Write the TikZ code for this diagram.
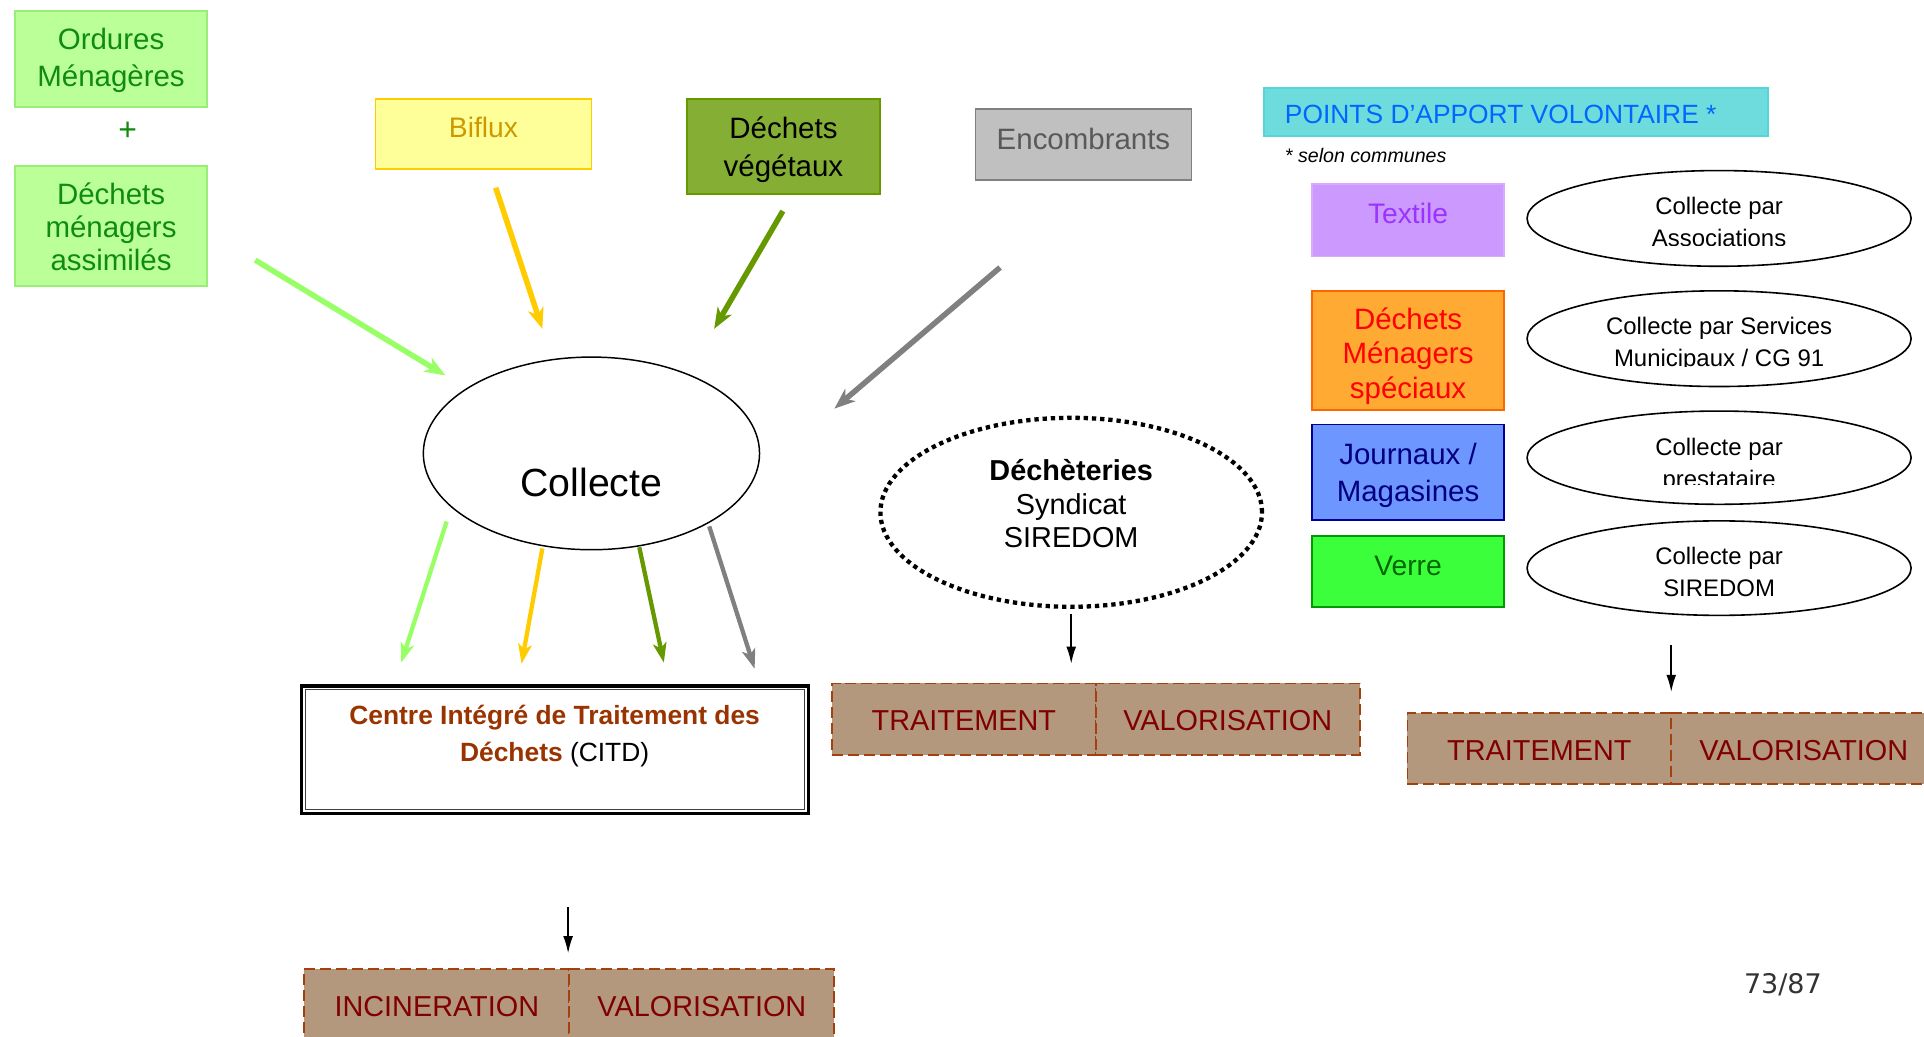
\documentclass[tikz,border=0pt]{standalone}
\usepackage{fontspec}
\setmainfont{Liberation Sans}
\newfontfamily\dejavu{DejaVu Sans}
\usetikzlibrary{shapes.geometric,arrows.meta}
\definecolor{omf}{HTML}{BBFF99}
\definecolor{omd}{HTML}{99EE77}
\definecolor{omt}{HTML}{0F8C0F}
\definecolor{bif}{HTML}{FFFF99}
\definecolor{bid}{HTML}{FFCC00}
\definecolor{bit}{HTML}{CC9900}
\definecolor{dvf}{HTML}{84AE34}
\definecolor{dvd}{HTML}{669900}
\definecolor{encf}{HTML}{C0C0C0}
\definecolor{encd}{HTML}{808080}
\definecolor{enct}{HTML}{595959}
\definecolor{papf}{HTML}{6EDCDC}
\definecolor{papd}{HTML}{55D5D5}
\definecolor{papt}{HTML}{0066FF}
\definecolor{texf}{HTML}{CC99FF}
\definecolor{texd}{HTML}{D6ABFF}
\definecolor{text}{HTML}{9933FF}
\definecolor{dmsf}{HTML}{FFAA33}
\definecolor{dmsd}{HTML}{FF6600}
\definecolor{dmst}{HTML}{FF0000}
\definecolor{jmf}{HTML}{6E96FF}
\definecolor{jmd}{HTML}{000099}
\definecolor{jmt}{HTML}{000080}
\definecolor{vef}{HTML}{3CFF3C}
\definecolor{ved}{HTML}{009900}
\definecolor{vet}{HTML}{006600}
\definecolor{arlg}{HTML}{99FF66}
\definecolor{aryl}{HTML}{FFCC00}
\definecolor{arol}{HTML}{669900}
\definecolor{argr}{HTML}{808080}
\definecolor{tanf}{HTML}{B3987E}
\definecolor{tand}{HTML}{A3400D}
\definecolor{tant}{HTML}{800000}
\definecolor{citdt}{HTML}{993300}
\newcommand\fsz[2]{\fontsize{#1pt}{#2pt}\selectfont}
\begin{document}
\begin{tikzpicture}[x=1pt,y=-1pt,
  box/.style={draw,rectangle,line width=1.5pt,inner sep=0pt},
  txt/.style={anchor=base,inner sep=0pt},
  pellipse/.style={draw,ellipse,line width=1.3pt,inner sep=0pt,minimum width=313pt},
  inarrow/.style={line width=4.5pt,-{Stealth[length=17pt,width=13pt,inset=5pt]}},
  outarrow/.style={line width=3.5pt,-{Stealth[length=16pt,width=11pt,inset=4pt]}},
  blkarrow/.style={line width=1.5pt,-{Latex[length=14pt,width=8pt]}},
  tanbox/.style={draw=tand,fill=tanf,rectangle,line width=1.5pt,dash pattern=on 9pt off 4pt,
    inner sep=0pt,text=tant,font=\fsz{23.5}{28},text height=19pt,text depth=0pt}
]
\fill[white] (0,0) rectangle (1568,845);
\useasboundingbox (0,0) rectangle (1568,845);

% left green boxes
\node[box,draw=omd,fill=omf,minimum width=157pt,minimum height=78pt] (om) at (90.5,48) {};
\node[txt,text=omt,font=\fsz{24}{28}] (omt1) at (90.5,40.6) {Ordures};
\node[txt,text=omt,font=\fsz{24}{28}] (omt2) at (90.5,70.6) {Ménagères};
\node[text=omt,font=\fsz{26}{28},inner sep=0pt] (plus) at (104,107) {+};
\node[box,draw=omd,fill=omf,minimum width=157pt,minimum height=98pt] (dma) at (90.5,184) {};
\node[txt,text=omt,font=\fsz{24}{28}] (dmat1) at (90.5,166.6) {Déchets};
\node[txt,text=omt,font=\fsz{24}{28}] (dmat2) at (90.5,193.6) {ménagers};
\node[txt,text=omt,font=\fsz{24}{28}] (dmat3) at (90.5,220.6) {assimilés};

% Biflux
\node[box,draw=bid,fill=bif,minimum width=176pt,minimum height=57pt] (bif) at (394,109.5) {};
\node[txt,text=bit,font=\fsz{23}{28}] (bift) at (394,112.3) {Biflux};
% Dechets vegetaux
\node[box,draw=dvd,fill=dvf,minimum width=157pt,minimum height=77pt] (dv) at (638.5,119.5) {};
\node[txt,font=\fsz{24}{28}] (dvt1) at (638.5,112.6) {Déchets};
\node[txt,font=\fsz{24}{28}] (dvt2) at (638.5,143.6) {végétaux};
% Encombrants
\node[box,draw=encd,fill=encf,minimum width=176pt,minimum height=58pt] (enc) at (883,118) {};
\node[txt,text=enct,font=\fsz{24}{28}] (enct) at (883,121.6) {Encombrants};

% Points d'apport volontaire
\node[box,draw=papd,fill=papf,minimum width=411pt,minimum height=39pt] (pap) at (1235.5,91.5) {};
\node[anchor=base west,inner sep=0pt,text=papt,font=\fsz{21.5}{26}] (papt) at (1047,100.7) {POINTS D’APPORT VOLONTAIRE *};
\node[anchor=base west,inner sep=0pt,font=\fsz{16}{20}\itshape] (selon) at (1047,132.8) {* selon communes};

% PAV boxes
\node[box,draw=texd,fill=texf,minimum width=157pt,minimum height=59pt] (tex) at (1147.5,179.5) {};
\node[txt,text=text,font=\fsz{23}{28}] (text1) at (1147.5,182.3) {Textile};
\node[box,draw=dmsd,fill=dmsf,minimum width=157pt,minimum height=97pt] (dms) at (1147.5,285.5) {};
\node[txt,text=dmst,font=\fsz{24}{28}] (dmst1) at (1147.5,268.6) {Déchets};
\node[txt,text=dmst,font=\fsz{24}{28}] (dmst2) at (1147.5,296.6) {Ménagers};
\node[txt,text=dmst,font=\fsz{24}{28}] (dmst3) at (1147.5,324.6) {spéciaux};
\node[box,draw=jmd,fill=jmf,minimum width=157pt,minimum height=78pt] (jm) at (1147.5,385) {};
\node[txt,text=jmt,font=\fsz{24}{28}] (jmt1) at (1147.5,378.6) {Journaux /};
\node[txt,text=jmt,font=\fsz{24}{28}] (jmt2) at (1147.5,408.6) {Magasines};
\node[box,draw=ved,fill=vef,minimum width=157pt,minimum height=58pt] (ve) at (1147.5,466) {};
\node[txt,text=vet,font=\fsz{23}{28}] (vet1) at (1147.5,469.3) {Verre};

% right ellipses
\node[pellipse,minimum height=78pt] (el1) at (1401,178) {};
\node[pellipse,minimum height=78pt] (el2) at (1401,276) {};
\node[pellipse,minimum height=76pt] (el3) at (1401,373) {};
\node[pellipse,minimum height=77pt] (el4) at (1401,463) {};
\begin{scope}
\clip (1240,140) rectangle (1560,200);
\node[txt,font=\fsz{19.5}{24}] (el1a) at (1401,175) {Collecte par};
\node[txt,font=\fsz{19.5}{24}] (el1b) at (1401,201) {Associations};
\end{scope}
\begin{scope}
\clip (1240,238) rectangle (1560,298.5);
\node[txt,font=\fsz{19.5}{24}] (el2a) at (1401,273) {Collecte par Services};
\node[txt,font=\fsz{19.5}{24}] (el2b) at (1401,299) {Municipaux / CG 91};
\end{scope}
\begin{scope}
\clip (1240,336) rectangle (1560,394.5);
\node[txt,font=\fsz{19.5}{24}] (el3a) at (1401,371) {Collecte par};
\node[txt,font=\fsz{19.5}{24}] (el3b) at (1401,397.5) {prestataire};
\end{scope}
\node[txt,font=\fsz{19.5}{24}] (el4a) at (1401,460) {Collecte par};
\node[txt,font=\fsz{19.5}{24}] (el4b) at (1401,486) {SIREDOM};

% Collecte
\node[draw,ellipse,line width=1.2pt,minimum width=274pt,minimum height=157pt,inner sep=0pt] (col) at (482,369.5) {};
\node[txt,font=\fsz{32}{36}] (colt) at (482,404.5) {Collecte};

% incoming arrows
\coordinate (i1) at (208,212); \coordinate (i1e) at (363,306);
\coordinate (i2) at (404,153); \coordinate (i2e) at (442,268);
\coordinate (i3) at (638,172); \coordinate (i3e) at (582,268);
\coordinate (i4) at (815,218); \coordinate (i4e) at (680,333);
\draw[inarrow,arlg] (i1) -- (i1e);
\draw[inarrow,aryl] (i2) -- (i2e);
\draw[inarrow,arol] (i3) -- (i3e);
\draw[inarrow,argr] (i4) -- (i4e);

% outgoing arrows
\coordinate (o1) at (364,425); \coordinate (o1e) at (327,540);
\coordinate (o2) at (442,447); \coordinate (o2e) at (425,541);
\coordinate (o3) at (521,446); \coordinate (o3e) at (541,540);
\coordinate (o4) at (578,429); \coordinate (o4e) at (615,545);
\draw[outarrow,arlg] (o1) -- (o1e);
\draw[outarrow,aryl] (o2) -- (o2e);
\draw[outarrow,arol] (o3) -- (o3e);
\draw[outarrow,argr] (o4) -- (o4e);

% Decheteries
\node[draw,ellipse,line width=3.5pt,dash pattern=on 3.5pt off 3.2pt,minimum width=311pt,minimum height=154pt,inner sep=0pt] (dech) at (873,417.5) {};
\node[txt,font=\fsz{23.5}{28}\bfseries] (decht1) at (873,391.5) {Déchèteries};
\node[txt,font=\fsz{23.5}{28}] (decht2) at (873,419.5) {Syndicat};
\node[txt,font=\fsz{23.5}{28}] (decht3) at (873,446.5) {SIREDOM};

% treatment boxes
\node[tanbox,minimum width=215pt,minimum height=58pt] (tr1) at (785.5,586) {TRAITEMENT};
\node[tanbox,minimum width=215pt,minimum height=58pt] (va1) at (1000.5,586) {VALORISATION};
\node[tanbox,minimum width=215pt,minimum height=58pt] (tr2) at (1254.5,610) {TRAITEMENT};
\node[tanbox,minimum width=216pt,minimum height=58pt] (va2) at (1470,610) {VALORISATION};
\node[tanbox,minimum width=216pt,minimum height=58pt] (inc) at (356,819) {INCINERATION};
\node[tanbox,minimum width=216pt,minimum height=58pt] (va3) at (572,819) {VALORISATION};

% CITD
\node[draw,rectangle,line width=2.6pt,minimum width=413pt,minimum height=104pt,inner sep=0pt] (citd) at (452.5,611) {};
\draw[line width=1pt,black!75] ([shift={(4.5pt,-4.5pt)}]citd.north west) rectangle ([shift={(-4.5pt,4.5pt)}]citd.south east);
\node[txt,text=citdt,font=\fsz{21.5}{26}\bfseries] (citdt1) at (452,590.7) {Centre Intégré de Traitement des};
\node[txt,font=\fsz{21.5}{26}] (citdt2) at (452,620.7) {\textcolor{citdt}{\textbf{Déchets}} (CITD)};

% black arrows
\coordinate (b1) at (873,541);
\draw[blkarrow] ([yshift=-4pt]dech.south) -- (b1);
\coordinate (b2s) at (1362,526); \coordinate (b2e) at (1362,564);
\draw[blkarrow] (b2s) -- (b2e);
\coordinate (b3s) at (463,739); \coordinate (b3e) at (463,777);
\draw[blkarrow] (b3s) -- (b3e);

% page number
\node[txt,text=black!80,font=\dejavu\fsz{22}{26}] (page) at (1453,810) {73/87};
\end{tikzpicture}
\end{document}
